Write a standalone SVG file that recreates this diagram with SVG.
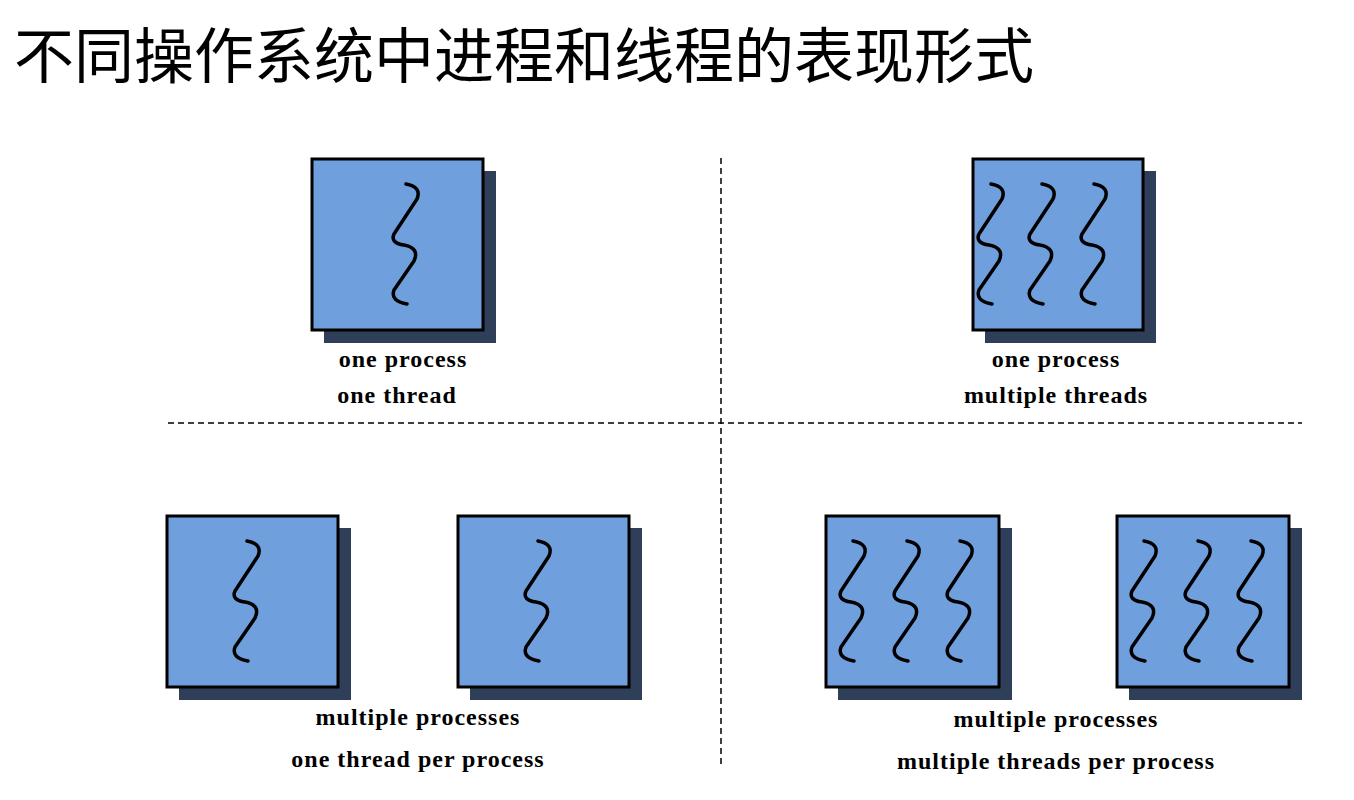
<svg xmlns="http://www.w3.org/2000/svg" width="1354" height="800" viewBox="0 0 1354 800">
<style>
.box{fill:#6f9fdc;stroke:#000;stroke-width:3}
.sh{fill:#2f3f5a}
.th{fill:none;stroke:#000;stroke-width:3.5;stroke-linecap:round;stroke-linejoin:round}
.lbl{font-family:"Liberation Serif",serif;font-weight:bold;font-size:24px;text-anchor:middle;letter-spacing:1px;fill:#000}
.dash{stroke:#000;stroke-width:1.5;stroke-dasharray:6,4;fill:none}
</style>
<defs>
<path id="t" class="th" d="M0,0 Q16,3 11,15 L-12,50 Q-16,59 -2,61 Q14,64 8,77 L-12,106 Q-16,117 1,120"/>
</defs>
<rect width="1354" height="800" fill="#fff"/>
<text x="14" y="78" font-family="'Noto Sans CJK SC',sans-serif" font-size="60" fill="#000">不同操作系统中进程和线程的表现形式</text>
<g id="connectors">
<line class="dash" x1="721" y1="158" x2="721" y2="768"/>
<line class="dash" x1="168" y1="423" x2="1302" y2="423"/>
</g>
<g id="nodeA">
<rect class="sh" x="324" y="171" width="172" height="172"/>
<rect class="box" x="312" y="159" width="171" height="171"/>
<use href="#t" x="406" y="184"/>
<text class="lbl" x="403" y="367">one process</text>
<text class="lbl" x="397" y="403">one thread</text>
</g>
<g id="nodeB">
<rect class="sh" x="985" y="171" width="171" height="172"/>
<rect class="box" x="973" y="159" width="170" height="171"/>
<use href="#t" x="991" y="184"/>
<use href="#t" x="1042" y="184"/>
<use href="#t" x="1094" y="184"/>
<text class="lbl" x="1056" y="367">one process</text>
<text class="lbl" x="1056" y="403">multiple threads</text>
</g>
<g id="nodeC">
<rect class="sh" x="179" y="528" width="172" height="172"/>
<rect class="box" x="167" y="516" width="171" height="171"/>
<use href="#t" x="247" y="541"/>
</g>
<g id="nodeD">
<rect class="sh" x="470" y="528" width="172" height="172"/>
<rect class="box" x="458" y="516" width="171" height="171"/>
<use href="#t" x="538" y="541"/>
</g>
<g id="labelCD">
<text class="lbl" x="418" y="725">multiple processes</text>
<text class="lbl" x="418" y="767">one thread per process</text>
</g>
<g id="nodeE">
<rect class="sh" x="838" y="528" width="174" height="172"/>
<rect class="box" x="826" y="516" width="173" height="171"/>
<use href="#t" x="853" y="541"/>
<use href="#t" x="907" y="541"/>
<use href="#t" x="960" y="541"/>
</g>
<g id="nodeF">
<rect class="sh" x="1129" y="528" width="173" height="172"/>
<rect class="box" x="1117" y="516" width="172" height="171"/>
<use href="#t" x="1144" y="541"/>
<use href="#t" x="1198" y="541"/>
<use href="#t" x="1251" y="541"/>
</g>
<g id="labelEF">
<text class="lbl" x="1056" y="727">multiple processes</text>
<text class="lbl" x="1056" y="769">multiple threads per process</text>
</g>
</svg>
